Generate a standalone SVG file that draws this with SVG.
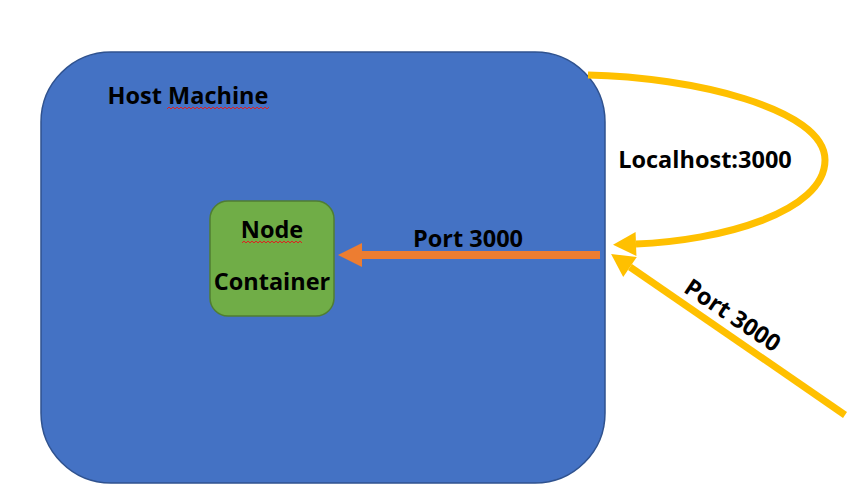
<svg xmlns="http://www.w3.org/2000/svg" width="862" height="491" viewBox="0 0 862 491">
<defs>
<style>
.lbl{font-family:"Open Sans","Liberation Sans",sans-serif;font-weight:bold;font-size:23.5px;fill:#000;text-anchor:middle}
.sq{fill:none;stroke:#E02020;stroke-width:1}
</style>
<marker id="ho" markerUnits="userSpaceOnUse" markerWidth="24" markerHeight="24" refX="0" refY="12" orient="auto" overflow="visible">
<path d="M0,0 L24,12 L0,24 z" fill="#ED7D31"/>
</marker>
<marker id="hy" markerUnits="userSpaceOnUse" markerWidth="24" markerHeight="24" refX="0" refY="12" orient="auto" overflow="visible">
<path d="M0,0 L23,12 L0,24 z" fill="#FFC000"/>
</marker>
</defs>
<rect width="862" height="491" fill="#fff"/>
<g id="host">
<rect x="41" y="52" width="564" height="431" rx="70" ry="70" fill="#4472C4" stroke="#2F528F" stroke-width="1.5"/>
<text class="lbl" x="188" y="104">Host Machine</text>
<path class="sq" d="M167,109 l2,-2 l2,2 l2,-2 l2,2 l2,-2 l2,2 l2,-2 l2,2 l2,-2 l2,2 l2,-2 l2,2 l2,-2 l2,2 l2,-2 l2,2 l2,-2 l2,2 l2,-2 l2,2 l2,-2 l2,2 l2,-2 l2,2 l2,-2 l2,2 l2,-2 l2,2 l2,-2 l2,2 l2,-2 l2,2 l2,-2 l2,2 l2,-2 l2,2 l2,-2 l2,2 l2,-2 l2,2 l2,-2 l2,2 l2,-2 l2,2 l2,-2 l2,2 l2,-2 l2,2 l2,-2 l2,2 l2,-2"/>
</g>
<g id="node">
<rect x="210" y="201" width="124" height="115" rx="18" ry="18" fill="#70AD47" stroke="#507E32" stroke-width="1.5"/>
<text class="lbl" x="272" y="238">Node</text>
<path class="sq" d="M242,243 l2,-2 l2,2 l2,-2 l2,2 l2,-2 l2,2 l2,-2 l2,2 l2,-2 l2,2 l2,-2 l2,2 l2,-2 l2,2 l2,-2 l2,2 l2,-2 l2,2 l2,-2 l2,2 l2,-2 l2,2 l2,-2 l2,2 l2,-2 l2,2 l2,-2 l2,2 l2,-2 l2,2"/>
<text class="lbl" x="272" y="290">Container</text>
</g>
<g id="connectors">
<line x1="600" y1="255" x2="362" y2="255" stroke="#ED7D31" stroke-width="8" marker-end="url(#ho)"/>
<text class="lbl" x="468" y="247">Port 3000</text>
<path d="M588,75 C690,77 825,108 825,160 C825,212 720,241 636,244" fill="none" stroke="#FFC000" stroke-width="7" marker-end="url(#hy)"/>
<text class="lbl" x="705" y="168">Localhost:3000</text>
<line x1="845" y1="415" x2="630" y2="267" stroke="#FFC000" stroke-width="7" marker-end="url(#hy)"/>
<text class="lbl" transform="translate(728,322) rotate(34)" x="0" y="0">Port 3000</text>
</g>
</svg>
